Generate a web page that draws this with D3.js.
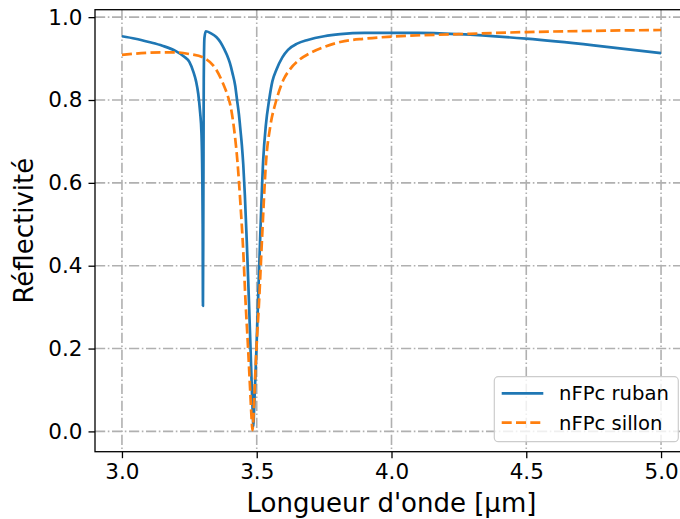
<!DOCTYPE html>
<html>
<head>
<meta charset="utf-8">
<script src="https://d3js.org/d3.v7.min.js"></script>
<style>
	body { margin: 0; background: #fff; }
	svg { display: block; font-family: "DejaVu Sans", sans-serif; }
	.grid line { stroke: #b0b0b0; stroke-width: 1.6; stroke-dasharray: 10.2,2.6,1.6,2.6; }
	.axis path, .axis line { stroke: #000; stroke-width: 1.3; }
	.axis text { font-family: "DejaVu Sans", sans-serif; font-size: 21.5px; fill: #000; }
</style>
</head>
<body>
<script>
//wavelength (um) and reflectivity
var rubanX = [3.00, 3.05, 3.10, 3.15, 3.20, 3.23, 3.25, 3.265, 3.275, 3.283, 3.29, 3.295, 3.298, 3.2995, 3.3005,
	3.302, 3.3035, 3.306, 3.311, 3.33, 3.35, 3.365, 3.38, 3.39, 3.40, 3.41, 3.42, 3.427, 3.434, 3.44, 3.445, 3.45,
	3.456, 3.463, 3.471, 3.477, 3.482, 3.4855, 3.4875, 3.4895, 3.493, 3.499, 3.505, 3.514, 3.524, 3.534, 3.546,
	3.558, 3.573, 3.595, 3.616, 3.65, 3.689, 3.75, 3.81, 3.90, 4.00, 4.10, 4.25, 4.50, 4.75, 5.00];
var rubanY = [0.954, 0.948, 0.940, 0.931, 0.918, 0.905, 0.892, 0.868, 0.845, 0.815, 0.770, 0.720, 0.620, 0.500, 0.303,
	0.550, 0.850, 0.950, 0.966, 0.961, 0.952, 0.940, 0.922, 0.908, 0.890, 0.865, 0.835, 0.800, 0.765, 0.725, 0.690, 0.645,
	0.570, 0.460, 0.317, 0.200, 0.100, 0.040, 0.012, 0.040, 0.100, 0.200, 0.317, 0.490, 0.655, 0.740, 0.800,
	0.845, 0.873, 0.903, 0.921, 0.936, 0.945, 0.954, 0.959, 0.962, 0.962, 0.962, 0.959, 0.948, 0.932, 0.913];

var sillonX = [3.00, 3.05, 3.10, 3.15, 3.20, 3.25, 3.30, 3.35, 3.375, 3.39, 3.403, 3.415, 3.428, 3.44, 3.45, 3.458, 3.468,
	3.476, 3.481, 3.484, 3.487, 3.492, 3.499, 3.509, 3.52, 3.535, 3.55, 3.573, 3.60, 3.622, 3.66, 3.697, 3.75, 3.81,
	3.90, 4.00, 4.25, 4.50, 4.75, 5.00];
var sillonY = [0.909, 0.912, 0.914, 0.915, 0.915, 0.911, 0.903, 0.873, 0.840, 0.815, 0.785, 0.735, 0.655, 0.545, 0.435, 0.320, 0.200,
	0.095, 0.030, 0.003, 0.025, 0.100, 0.200, 0.317, 0.470, 0.655, 0.735, 0.800, 0.850, 0.873, 0.898, 0.913, 0.928, 0.940,
	0.948, 0.953, 0.959, 0.964, 0.967, 0.969];

var xTicks = [3.0, 3.5, 4.0, 4.5, 5.0];
var yTicks = [0.0, 0.2, 0.4, 0.6, 0.8, 1.0];
var seriesNames = ["nFPc ruban", "nFPc sillon"];
var seriesColors = ["#1f77b4", "#ff7f0e"];

//frame dimensions
var width = 680,
	height = 519;

var svg = d3.select("body")
	.append("svg")
	.attr("width", width)
	.attr("height", height);

//axes box, right edge falls just past the picture
var plotLeft = 95, plotRight = 688, plotTop = 9.7, plotBottom = 451.7;

var x = d3.scaleLinear().domain([2.9, 5.1]).range([plotLeft, plotRight]);
var y = d3.scaleLinear().domain([-0.049, 1.018]).range([plotBottom, plotTop]);

//grid
var grid = svg.append("g").attr("class", "grid");
grid.selectAll(".gx")
	.data(xTicks)
	.enter()
	.append("line")
	.attr("x1", function(d){ return x(d); })
	.attr("x2", function(d){ return x(d); })
	.attr("y1", plotTop)
	.attr("y2", plotBottom);
grid.selectAll(".gy")
	.data(yTicks)
	.enter()
	.append("line")
	.attr("x1", plotLeft)
	.attr("x2", plotRight)
	.attr("y1", function(d){ return y(d); })
	.attr("y2", function(d){ return y(d); });

//lines
function toPoints(xs, ys){
	return xs.map(function(v, i){ return [v, ys[i]]; });
}
var line = d3.line()
	.x(function(d){ return x(d[0]); })
	.y(function(d){ return y(d[1]); })
	.curve(d3.curveMonotoneX);

svg.append("path")
	.datum(toPoints(rubanX, rubanY))
	.attr("fill", "none")
	.attr("stroke", seriesColors[0])
	.attr("stroke-width", 2.7)
	.attr("stroke-linejoin", "round")
	.attr("d", line);

svg.append("path")
	.datum(toPoints(sillonX, sillonY))
	.attr("fill", "none")
	.attr("stroke", seriesColors[1])
	.attr("stroke-width", 2.7)
	.attr("stroke-linejoin", "round")
	.attr("stroke-dasharray", "10,4.3")
	.attr("d", line);

//frame
svg.append("rect")
	.attr("x", plotLeft)
	.attr("y", plotTop)
	.attr("width", plotRight - plotLeft)
	.attr("height", plotBottom - plotTop)
	.attr("fill", "none")
	.attr("stroke", "#000")
	.attr("stroke-width", 1.3);

//axes
var xAxis = svg.append("g")
	.attr("class", "axis")
	.attr("transform", "translate(0," + plotBottom + ")")
	.call(d3.axisBottom(x).tickValues(xTicks).tickFormat(d3.format(".1f")).tickSizeInner(6.5).tickSizeOuter(0).tickPadding(6));
xAxis.select(".domain").remove();

var yAxis = svg.append("g")
	.attr("class", "axis")
	.attr("transform", "translate(" + plotLeft + ",0)")
	.call(d3.axisLeft(y).tickValues(yTicks).tickFormat(d3.format(".1f")).tickSizeInner(6.5).tickSizeOuter(0).tickPadding(6));
yAxis.select(".domain").remove();

//axis labels
svg.append("text")
	.attr("x", (plotLeft + plotRight) / 2)
	.attr("y", 511.5)
	.attr("text-anchor", "middle")
	.attr("font-size", "26px")
	.text("Longueur d'onde [µm]");

svg.append("text")
	.attr("transform", "translate(33," + ((plotTop + plotBottom) / 2) + ") rotate(-90)")
	.attr("text-anchor", "middle")
	.attr("font-size", "26px")
	.text("Réflectivité");

//legend
var legend = svg.append("g").attr("class", "legend");
legend.append("rect")
	.attr("x", 494.3)
	.attr("y", 376.7)
	.attr("width", 184)
	.attr("height", 65)
	.attr("rx", 4)
	.attr("fill", "#fff")
	.attr("fill-opacity", 0.8)
	.attr("stroke", "#cccccc")
	.attr("stroke-width", 1.2);

var items = legend.selectAll(".item")
	.data(seriesNames)
	.enter()
	.append("g")
	.attr("transform", function(d, i){ return "translate(0," + (393.3 + i * 29.4) + ")"; });

items.append("line")
	.attr("x1", 501.7)
	.attr("x2", 543.3)
	.attr("stroke", function(d, i){ return seriesColors[i]; })
	.attr("stroke-width", 2.7)
	.attr("stroke-dasharray", function(d, i){ return i ? "10,4.3" : null; });

items.append("text")
	.attr("x", 559)
	.attr("dy", "0.35em")
	.attr("font-size", "19.6px")
	.text(function(d){ return d; });
</script>
</body>
</html>
